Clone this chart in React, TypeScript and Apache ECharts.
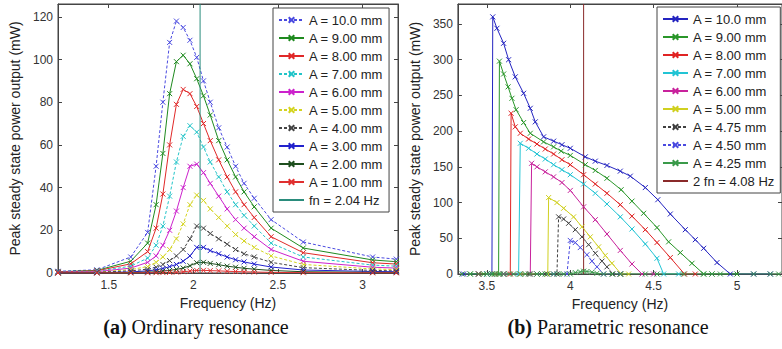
import React, { useEffect, useRef } from "react";
import * as echarts from "echarts";

// ---------- (a) Ordinary resonance ----------
const freqA = [1.2, 1.43, 1.63, 1.73, 1.78, 1.82, 1.86, 1.9, 1.94, 1.98, 2.02, 2.06, 2.1, 2.15, 2.2, 2.25, 2.3, 2.36, 2.46, 2.65, 3.06, 3.2];
const pA10 = [0.8, 1.5, 7.5, 19, 50, 80, 108, 118, 115, 109, 101, 90, 80, 68, 59, 50, 42, 35, 25, 14.5, 7.5, 6.5];
const pA9 = [0.6, 1.2, 5.5, 14, 32, 56, 84, 99, 102, 98, 91, 83, 74, 62, 53, 45, 38, 31, 21, 11.7, 6.1, 5.3];
const pA8 = [0.5, 1.0, 4.3, 10, 21, 37, 60, 79, 86, 84, 78, 70, 62, 53, 45, 38, 32, 26, 17, 9.5, 4.8, 4.2];
const pA7 = [0.4, 0.8, 3.2, 7, 13, 22, 36, 52, 64, 69, 66, 59, 52, 45, 38, 32, 27, 22, 14, 7.5, 3.7, 3.2];
const pA6 = [0.3, 0.6, 2.3, 5, 8, 13, 20, 29, 40, 50, 51, 47, 42, 36, 30, 25, 21, 17, 11, 5.5, 2.7, 2.3];
const pA5 = [0.2, 0.4, 1.6, 3, 5, 7.5, 11, 16, 23, 32, 36.5, 34, 30, 26, 22, 18, 15, 12, 8, 4, 1.9, 1.6];
const pA4 = [0.15, 0.3, 1, 1.8, 2.7, 4, 5.8, 8, 11, 16, 22, 21, 18.5, 16, 13.5, 11, 9, 7.5, 5, 2.5, 1.2, 1.0];
const pA3 = [0.08, 0.15, 0.5, 1, 1.5, 2.1, 3, 4, 5.5, 8, 12, 12, 10.5, 9, 7.5, 6.2, 5.2, 4.2, 2.8, 1.4, 0.7, 0.6];
const pA2 = [0.03, 0.06, 0.2, 0.4, 0.6, 0.9, 1.2, 1.7, 2.3, 3.4, 4.8, 5, 4.5, 3.9, 3.2, 2.7, 2.2, 1.8, 1.2, 0.6, 0.3, 0.25];
const pA1 = [0.01, 0.02, 0.05, 0.1, 0.15, 0.2, 0.3, 0.4, 0.6, 0.9, 1.2, 1.25, 1.1, 1.0, 0.8, 0.7, 0.55, 0.45, 0.3, 0.15, 0.08, 0.06];
const namesA = ["A = 10.0 mm", "A = 9.00 mm", "A = 8.00 mm", "A = 7.00 mm", "A = 6.00 mm", "A = 5.00 mm", "A = 4.00 mm", "A = 3.00 mm", "A = 2.00 mm", "A = 1.00 mm"];
const valuesA = [pA10, pA9, pA8, pA7, pA6, pA5, pA4, pA3, pA2, pA1];
const fnA = 2.04;
const fnNameA = "fn = 2.04 Hz";
const xTicksA = [1.5, 2, 2.5, 3];
const yTicksA = [0, 20, 40, 60, 80, 100, 120];

// ---------- (b) Parametric resonance ----------
const rA10: [number, number][] = [[3.36, 0], [3.45, 0], [3.5, 0], [3.53, 0], [3.535, 360], [3.56, 344], [3.6, 323], [3.63, 300], [3.67, 276], [3.72, 253], [3.76, 232], [3.79, 213], [3.84, 192], [3.9, 186], [3.95, 181], [4.0, 176], [4.09, 164], [4.15, 158], [4.22, 152], [4.3, 144], [4.36, 137], [4.45, 121], [4.525, 104], [4.6, 84], [4.69, 62], [4.75, 48], [4.8, 36], [4.88, 16], [4.96, 0], [5.1, 0], [5.2, 0]];
const rA9: [number, number][] = [[3.4, 0], [3.48, 0], [3.54, 0], [3.57, 0], [3.575, 298], [3.6, 280], [3.627, 262], [3.65, 246], [3.675, 230], [3.72, 212], [3.76, 197], [3.84, 185], [3.9, 178], [3.945, 172], [4.0, 166], [4.09, 153], [4.15, 145], [4.22, 134], [4.305, 118], [4.37, 102], [4.44, 85], [4.52, 65], [4.59, 45], [4.66, 30], [4.73, 15], [4.8, 0], [4.85, 0], [5.0, 0]];
const rA8: [number, number][] = [[3.45, 0], [3.55, 0], [3.6, 0], [3.64, 0], [3.645, 225], [3.67, 206], [3.7, 197], [3.75, 189], [3.8, 182], [3.85, 175], [3.9, 168], [3.95, 160], [4.0, 153], [4.08, 139], [4.15, 126], [4.22, 113], [4.3, 97], [4.37, 81], [4.45, 62], [4.52, 44], [4.6, 23], [4.685, 0], [4.75, 0]];
const rA7: [number, number][] = [[3.5, 0], [3.6, 0], [3.69, 0], [3.7, 183], [3.75, 176], [3.8, 168], [3.85, 161], [3.9, 153], [3.95, 146], [4.0, 139], [4.08, 126], [4.15, 113], [4.22, 98], [4.3, 80], [4.37, 63], [4.45, 42], [4.52, 22], [4.56, 0], [4.65, 0]];
const rA6: [number, number][] = [[3.6, 0], [3.7, 0], [3.76, 0], [3.768, 155], [3.8, 150], [3.85, 143], [3.9, 136], [3.95, 128], [4.0, 117], [4.08, 94], [4.15, 76], [4.22, 56], [4.3, 33], [4.37, 14], [4.43, 0], [4.5, 0]];
const rA5: [number, number][] = [[3.7, 0], [3.8, 0], [3.865, 0], [3.87, 107], [3.92, 100], [3.96, 92], [4.02, 80], [4.07, 66], [4.12, 52], [4.17, 38], [4.21, 26], [4.25, 15], [4.305, 0], [4.35, 0]];
const rA475: [number, number][] = [[3.75, 0], [3.85, 0], [3.92, 0], [3.93, 80], [3.96, 77], [3.99, 71], [4.03, 62], [4.07, 52], [4.11, 41], [4.15, 29], [4.19, 18], [4.22, 10], [4.255, 0], [4.3, 0]];
const rA45: [number, number][] = [[3.8, 0], [3.9, 0], [3.98, 0], [4.0, 47], [4.03, 44], [4.06, 37], [4.1, 27], [4.13, 18], [4.16, 10], [4.2, 0], [4.3, 0]];
const rA425: [number, number][] = [[3.35, 0], [3.4, 0], [3.45, 0], [3.5, 0], [3.53, 0], [3.55, 0], [3.58, 0], [3.6, 0], [3.63, 0], [3.66, 0], [3.7, 0], [3.73, 0], [3.76, 0], [3.8, 0], [3.83, 0], [3.86, 0], [3.9, 0], [3.93, 0], [3.96, 0], [4.0, 0], [4.03, 2], [4.06, 3], [4.08, 4], [4.1, 3.5], [4.13, 2.5], [4.16, 1], [4.2, 0], [4.25, 0], [4.3, 0], [4.45, 0], [4.52, 0], [4.68, 0], [4.8, 0], [4.85, 0], [4.9, 0], [5.1, 0], [5.2, 0], [5.25, 0]];
const namesB = ["A = 10.0 mm", "A = 9.00 mm", "A = 8.00 mm", "A = 7.00 mm", "A = 6.00 mm", "A = 5.00 mm", "A = 4.75 mm", "A = 4.50 mm", "A = 4.25 mm"];
const valuesB = [rA10, rA9, rA8, rA7, rA6, rA5, rA475, rA45, rA425];
const fnB = 4.08;
const fnNameB = "2 fn = 4.08 Hz";
const xTicksB = [3.5, 4, 4.5, 5];
const yTicksB = [0, 50, 100, 150, 200, 250, 300, 350];

// ---------- styles ----------
const colorsA = ["#4a4ae0", "#1f8a1f", "#e02828", "#22c4c8", "#cc22cc", "#d4d420", "#454545", "#2222cc", "#1f4f1f", "#e03030"];
const dashA = [true, false, false, true, false, true, true, false, false, false];
const fnColorA = "#2a8c7c";
const colorsB = ["#2424c0", "#2a962a", "#e02424", "#22c4d4", "#c8229c", "#d0d020", "#404040", "#4a4ae0", "#3a9a4a"];
const dashB = [false, false, false, false, false, false, true, true, false];
const fnColorB = "#8a2a2a";

const SANS = "Liberation Sans, Arial, Helvetica, sans-serif";
const SERIF = "Liberation Serif, Times New Roman, serif";
const CROSS = "path://M0 0L10 10M10 0L0 10";
const AXC = "#444";
const CLEAR = "rgba(0,0,0,0)";

function lineSeries(name: string, data: any[], color: string, dashed: boolean) {
  return {
    type: "line",
    name,
    data,
    symbol: CROSS,
    symbolSize: 5,
    showSymbol: true,
    clip: true,
    lineStyle: { color, width: 1, type: dashed ? [3, 2] : "solid" },
    itemStyle: { color, borderColor: color, borderWidth: 1 },
    emphasis: { disabled: true },
  };
}

function vSeries(name: string, x: number, ymax: number, color: string) {
  return {
    type: "line",
    name,
    data: [[x, 0], [x, ymax]],
    symbol: CROSS,
    symbolSize: 5,
    showSymbol: false,
    lineStyle: { color, width: 1 },
    itemStyle: { color: CLEAR, borderColor: CLEAR, borderWidth: 0 },
    emphasis: { disabled: true },
  };
}

function axes(xmin: number, xmax: number, ymax: number, xt: number[], yt: number[], yNameGap: number) {
  const common = {
    type: "value",
    splitLine: { show: false },
    axisLine: { show: true, onZero: false, lineStyle: { color: AXC, width: 1 } },
  };
  const xAxis = [
    {
      ...common, min: xmin, max: xmax, position: "bottom",
      axisTick: { show: true, inside: true, length: 4, customValues: xt, lineStyle: { color: AXC } },
      axisLabel: { customValues: xt, color: "#333", fontSize: 12, fontFamily: SANS, margin: 6 },
      name: "Frequency (Hz)", nameLocation: "middle", nameGap: 20,
      nameTextStyle: { color: "#222", fontSize: 14, fontFamily: SANS },
    },
    {
      ...common, min: xmin, max: xmax, position: "top",
      axisTick: { show: true, inside: true, length: 4, customValues: xt, lineStyle: { color: AXC } },
      axisLabel: { show: false },
    },
  ];
  const yAxis = [
    {
      ...common, min: 0, max: ymax, position: "left",
      axisTick: { show: true, inside: true, length: 4, customValues: yt, lineStyle: { color: AXC } },
      axisLabel: { customValues: yt, color: "#333", fontSize: 12, fontFamily: SANS, margin: 5 },
      name: "Peak steady state power output (mW)", nameLocation: "middle", nameGap: yNameGap,
      nameTextStyle: { color: "#222", fontSize: 14, fontFamily: SANS },
    },
    {
      ...common, min: 0, max: ymax, position: "right",
      axisTick: { show: true, inside: true, length: 4, customValues: yt, lineStyle: { color: AXC } },
      axisLabel: { show: false },
    },
  ];
  return { xAxis, yAxis };
}

function legend(left: number, top: number, data: string[]) {
  return {
    orient: "vertical", left, top, selectedMode: false,
    padding: [5, 6, 5, 5], itemGap: 4, itemWidth: 25, itemHeight: 7,
    borderColor: "#444", borderWidth: 1, backgroundColor: "#fff",
    textStyle: { fontSize: 13, color: "#222", fontFamily: SANS, lineHeight: 14 },
    data,
  };
}

function caption(x: number, label: string, text: string) {
  return {
    type: "text", x, y: 327, z: 10,
    style: {
      text: `{b|${label}} ${text}`,
      fontSize: 20, fontFamily: SERIF, fill: "#111",
      align: "center", verticalAlign: "middle",
      rich: { b: { fontWeight: "bold", fontSize: 20, fontFamily: SERIF, fill: "#111" } },
    },
  };
}

function optionA() {
  const yMax = 126;
  const { xAxis, yAxis } = axes(1.2, 3.21, yMax, xTicksA, yTicksA, 36);
  const series: any[] = namesA.map((n, i) =>
    lineSeries(n, freqA.map((f, j) => [f, valuesA[i][j]]), colorsA[i], dashA[i])
  );
  series.push(vSeries(fnNameA, fnA, yMax, fnColorA));
  return {
    animation: false,
    backgroundColor: "#fff",
    grid: { left: 56, top: 4, width: 342, height: 269, show: true, borderColor: AXC, borderWidth: 1, containLabel: false },
    xAxis, yAxis,
    legend: legend(273, 8, [...namesA, fnNameA]),
    series,
    graphic: [caption(196, "(a)", "Ordinary resonance")],
  };
}

function optionB() {
  const yMax = 378;
  const { xAxis, yAxis } = axes(3.326, 5.27, yMax, xTicksB, yTicksB, 31);
  const series: any[] = namesB.map((n, i) => lineSeries(n, valuesB[i], colorsB[i], dashB[i]));
  series.push(vSeries(fnNameB, fnB, yMax, fnColorB));
  return {
    animation: false,
    backgroundColor: "#fff",
    grid: { left: 48, top: 4, width: 336, height: 270, show: true, borderColor: AXC, borderWidth: 1, containLabel: false },
    xAxis, yAxis,
    legend: legend(257, 7, [...namesB, fnNameB]),
    series,
    graphic: [caption(208, "(b)", "Parametric resonance")],
  };
}

export default function App() {
  const refA = useRef<HTMLDivElement>(null);
  const refB = useRef<HTMLDivElement>(null);
  useEffect(() => {
    const a = echarts.init(refA.current!, null, { renderer: "svg" });
    const b = echarts.init(refB.current!, null, { renderer: "svg" });
    a.setOption(optionA() as any);
    b.setOption(optionB() as any);
    return () => {
      a.dispose();
      b.dispose();
    };
  }, []);
  return (
    <div style={{ position: "fixed", left: 0, top: 0, width: 782, height: 349, background: "#fff", overflow: "hidden" }}>
      <div ref={refA} style={{ position: "absolute", left: 0, top: 0, width: 400, height: 349 }} />
      <div ref={refB} style={{ position: "absolute", left: 400, top: 0, width: 382, height: 349 }} />
    </div>
  );
}
